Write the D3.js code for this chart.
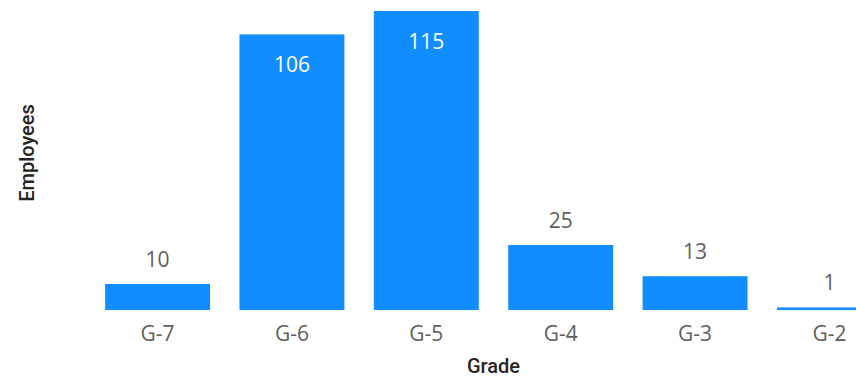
<!DOCTYPE html>
<html lang="en">
<head>
    <meta charset="UTF-8">
    <title>Employees by Grade</title>
    <script src="https://d3js.org/d3.v7.min.js"></script>
    <style>
        body {
            margin: 0;
            padding: 0;
            background-color: #ffffff;
        }
        svg {
            display: block;
        }
        .value {
            font-family: "Segoe UI", "Open Sans", sans-serif;
            font-size: 21px;
        }
        .tick-label {
            font-family: "Segoe UI", "Open Sans", sans-serif;
            font-size: 21px;
            fill: #605E5C;
        }
        .axis-title {
            font-family: "DIN", "Roboto", sans-serif;
            font-size: 20px;
            font-weight: 500;
            fill: #252423;
        }
    </style>
</head>
<body>
    <svg width="856" height="377"></svg>
    <script>
        const grades = ["G-7", "G-6", "G-5", "G-4", "G-3", "G-2"];
        const employees = [10, 106, 115, 25, 13, 1];

        const width = 856;
        const height = 377;
        const baseline = 310;

        const svg = d3.select("svg");

        const x = d3.scaleBand()
            .domain(grades)
            .range([90.3, 896.7])
            .paddingInner(0.219)
            .paddingOuter(0.11);

        const y = d3.scaleLinear()
            .domain([0, 115])
            .range([baseline, 11]);

        const data = grades.map((g, i) => ({ grade: g, value: employees[i] }));

        svg.append("g")
            .selectAll("rect")
            .data(data)
            .join("rect")
            .attr("x", d => x(d.grade))
            .attr("y", d => y(d.value))
            .attr("width", x.bandwidth())
            .attr("height", d => baseline - y(d.value))
            .attr("fill", "#118DFF");

        // big bars get the label inside, the rest above
        const inside = d => baseline - y(d.value) > 120;

        svg.append("g")
            .selectAll("text")
            .data(data)
            .join("text")
            .attr("class", "value")
            .attr("x", d => x(d.grade) + x.bandwidth() / 2)
            .attr("y", d => inside(d) ? y(d.value) + 38 : y(d.value) - 17)
            .attr("text-anchor", "middle")
            .attr("fill", d => inside(d) ? "#ffffff" : "#605E5C")
            .text(d => d.value);

        svg.append("g")
            .selectAll("text")
            .data(grades)
            .join("text")
            .attr("class", "tick-label")
            .attr("x", d => x(d) + x.bandwidth() / 2)
            .attr("y", 341)
            .attr("text-anchor", "middle")
            .text(d => d);

        svg.append("text")
            .attr("class", "axis-title")
            .attr("x", 493.5)
            .attr("y", 373)
            .attr("text-anchor", "middle")
            .text("Grade");

        svg.append("text")
            .attr("class", "axis-title")
            .attr("transform", "translate(34,153) rotate(-90)")
            .attr("text-anchor", "middle")
            .text("Employees");
    </script>
</body>
</html>
